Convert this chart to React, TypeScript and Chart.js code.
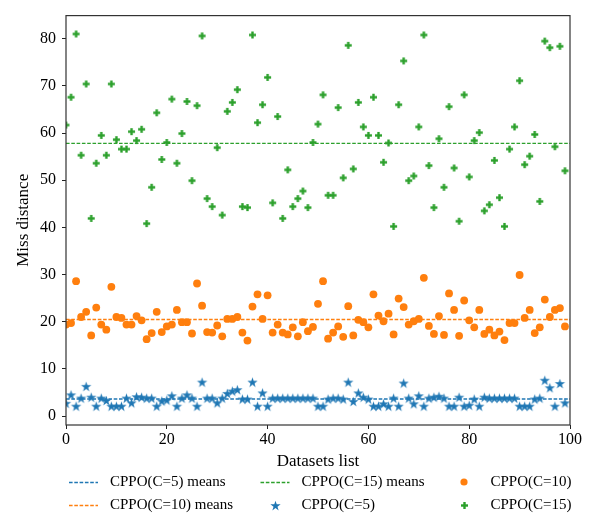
import React, { useEffect, useRef } from "react";
import { Chart, registerables } from "chart.js";

Chart.register(...registerables);

// Dataset indices on the x axis (one entry per evaluated dataset)
const datasetIndex: number[] = Array.from({ length: 100 }, (_, i) => i);

// Miss distance per dataset, CPPO with C = 5
const missC5: number[] = [
  2.7, 4.5, 2.1, 3.8, 6.3, 4.0, 2.1, 3.8, 3.3, 2.1,
  2.1, 2.1, 3.8, 2.8, 4.1, 4.0, 3.8, 3.8, 2.1, 3.2,
  3.4, 4.3, 2.1, 3.8, 4.5, 3.8, 2.1, 7.2, 3.8, 3.8,
  2.8, 3.8, 4.8, 5.3, 5.6, 3.6, 3.6, 7.2, 2.1, 4.9,
  2.1, 3.8, 3.8, 3.8, 3.8, 3.8, 3.8, 3.8, 3.8, 3.8,
  2.1, 2.1, 3.6, 3.8, 3.8, 3.6, 7.2, 3.1, 4.9, 4.0,
  3.6, 2.1, 2.1, 2.6, 2.1, 3.8, 2.1, 7.0, 3.8, 2.6,
  4.3, 2.1, 3.8, 4.0, 4.2, 3.8, 2.1, 2.1, 4.0, 2.1,
  2.3, 3.6, 2.1, 4.0, 3.8, 3.8, 3.8, 3.8, 3.8, 3.8,
  2.1, 2.1, 2.1, 3.6, 3.8, 7.6, 6.0, 2.1, 6.9, 2.8,
];

// Miss distance per dataset, CPPO with C = 10
const missC10: number[] = [
  19.4, 19.7, 28.6, 21.0, 22.1, 17.1, 23.0, 19.4, 18.3, 27.4,
  21.0, 20.8, 19.4, 19.4, 21.2, 20.3, 16.3, 17.6, 22.1, 17.8,
  19.0, 19.4, 22.5, 19.9, 19.9, 17.5, 28.1, 23.4, 17.8, 17.7,
  19.2, 16.9, 20.6, 20.6, 21.0, 17.7, 16.0, 23.2, 25.8, 20.6,
  25.6, 17.7, 19.4, 17.7, 17.3, 18.8, 16.9, 19.9, 18.0, 18.9,
  23.8, 28.6, 16.4, 17.7, 19.0, 16.8, 23.3, 17.1, 20.4, 19.9,
  18.8, 25.8, 21.3, 20.1, 21.7, 17.3, 24.9, 23.1, 19.4, 20.1,
  20.6, 29.3, 19.1, 17.4, 21.2, 17.2, 26.0, 22.5, 17.0, 24.5,
  20.3, 18.8, 22.5, 17.4, 18.3, 17.1, 17.9, 16.1, 19.7, 19.7,
  29.9, 20.8, 22.5, 17.6, 18.8, 24.7, 21.0, 22.5, 22.9, 19.0,
];

// Miss distance per dataset, CPPO with C = 15
const missC15: number[] = [
  61.7, 67.6, 81.0, 55.3, 70.4, 41.9, 53.6, 59.5, 55.3, 70.4,
  58.6, 56.6, 56.6, 60.3, 58.4, 60.8, 40.8, 48.5, 64.3, 54.4,
  58.0, 67.2, 53.6, 59.9, 66.7, 49.9, 65.8, 80.6, 46.1, 44.4,
  56.9, 42.6, 64.6, 66.5, 69.2, 44.4, 44.2, 80.8, 62.2, 66.0,
  71.8, 45.2, 63.5, 41.9, 52.2, 44.4, 46.1, 47.7, 44.2, 58.0,
  61.9, 68.1, 46.8, 46.8, 65.4, 50.5, 78.6, 52.4, 66.5, 61.3,
  59.5, 67.6, 59.5, 53.8, 57.9, 40.2, 66.0, 75.3, 49.9, 50.9,
  61.3, 80.8, 53.1, 44.2, 58.8, 48.5, 65.6, 52.6, 41.3, 68.1,
  50.7, 58.4, 60.1, 43.5, 44.8, 54.2, 46.3, 40.2, 56.6, 61.3,
  71.1, 53.3, 55.1, 59.7, 45.5, 79.5, 78.1, 57.1, 78.4, 52.0,
];

const xTickValues: number[] = [0, 20, 40, 60, 80, 100];
const yTickValues: number[] = [0, 10, 20, 30, 40, 50, 60, 70, 80];
const xRange: [number, number] = [0, 100];
const yRange: [number, number] = [-1.9, 84.9];

const BLUE = "#1f77b4";
const ORANGE = "#ff7f0e";
const GREEN = "#2ca02c";
const SERIF = "'Liberation Serif', 'Times New Roman', serif";
const MEAN_DASH = [3.6, 1.7];

const mean = (values: number[]) => values.reduce((s, v) => s + v, 0) / values.length;

// Filled five-pointed star marker
function makeStar(color: string, outer: number): HTMLCanvasElement {
  const size = Math.ceil(outer * 2) + 2;
  const c = document.createElement("canvas");
  c.width = size;
  c.height = size;
  const ctx = c.getContext("2d")!;
  const cx = size / 2;
  const cy = size / 2 + outer * 0.1;
  const inner = outer * 0.382;
  ctx.beginPath();
  for (let k = 0; k < 10; k++) {
    const r = k % 2 === 0 ? outer : inner;
    const a = -Math.PI / 2 + (k * Math.PI) / 5;
    const px = cx + r * Math.cos(a);
    const py = cy + r * Math.sin(a);
    if (k === 0) ctx.moveTo(px, py);
    else ctx.lineTo(px, py);
  }
  ctx.closePath();
  ctx.fillStyle = color;
  ctx.fill();
  return c;
}

// Filled plus marker
function makePlus(color: string, span: number, arm: number): HTMLCanvasElement {
  const size = Math.ceil(span) + 2;
  const c = document.createElement("canvas");
  c.width = size;
  c.height = size;
  const ctx = c.getContext("2d")!;
  const o = (size - span) / 2;
  const a = (size - arm) / 2;
  ctx.fillStyle = color;
  ctx.fillRect(o, a, span, arm);
  ctx.fillRect(a, o, arm, span);
  return c;
}

const toPoints = (values: number[]) => datasetIndex.map((x, i) => ({ x, y: values[i] }));
const meanLine = (values: number[]) => {
  const m = mean(values);
  return [
    { x: xRange[0], y: m },
    { x: xRange[1], y: m },
  ];
};

export default function App() {
  const canvasRef = useRef<HTMLCanvasElement | null>(null);

  useEffect(() => {
    const canvas = canvasRef.current;
    if (!canvas) return;

    const starImg = makeStar(BLUE, 5.4);
    const plusImg = makePlus(GREEN, 7, 2.4);

    // Full box around the plotting area
    const framePlugin = {
      id: "frame",
      afterDatasetsDraw(chart: any) {
        const { ctx, chartArea } = chart;
        ctx.save();
        ctx.strokeStyle = "#333";
        ctx.lineWidth = 1.2;
        ctx.strokeRect(
          chartArea.left,
          chartArea.top,
          chartArea.right - chartArea.left,
          chartArea.bottom - chartArea.top
        );
        ctx.restore();
      },
    };

    // Three-column legend laid out column by column under the axis title
    const legendEntries = [
      { col: 0, row: 0, kind: "line", color: BLUE, label: "CPPO(C=5) means" },
      { col: 0, row: 1, kind: "line", color: ORANGE, label: "CPPO(C=10) means" },
      { col: 1, row: 0, kind: "line", color: GREEN, label: "CPPO(C=15) means" },
      { col: 1, row: 1, kind: "star", color: BLUE, label: "CPPO(C=5)" },
      { col: 2, row: 0, kind: "circle", color: ORANGE, label: "CPPO(C=10)" },
      { col: 2, row: 1, kind: "plus", color: GREEN, label: "CPPO(C=15)" },
    ];
    const legendPlugin = {
      id: "columnLegend",
      afterDraw(chart: any) {
        const ctx = chart.ctx as CanvasRenderingContext2D;
        const colCenters = [83.5, 275, 464];
        const rowCenters = [482, 505];
        const handleHalf = 14.5;
        ctx.save();
        for (const e of legendEntries) {
          const cx = colCenters[e.col];
          const cy = rowCenters[e.row];
          if (e.kind === "line") {
            ctx.strokeStyle = e.color;
            ctx.lineWidth = 1.3;
            ctx.setLineDash(MEAN_DASH);
            ctx.beginPath();
            ctx.moveTo(cx - handleHalf, cy + 0.5);
            ctx.lineTo(cx + handleHalf, cy + 0.5);
            ctx.stroke();
            ctx.setLineDash([]);
          } else if (e.kind === "circle") {
            ctx.fillStyle = e.color;
            ctx.beginPath();
            ctx.arc(cx, cy, 3.6, 0, Math.PI * 2);
            ctx.fill();
          } else {
            const img = e.kind === "star" ? starImg : plusImg;
            ctx.drawImage(img, Math.round(cx - img.width / 2), Math.round(cy - img.height / 2));
          }
          ctx.fillStyle = "#000";
          ctx.font = `15px ${SERIF}`;
          ctx.textAlign = "left";
          ctx.textBaseline = "middle";
          ctx.fillText(e.label, cx + 26.5, cy);
        }
        ctx.restore();
      },
    };

    const tickFont = { family: SERIF, size: 16 };
    const titleFont = { family: SERIF, size: 17 };

    const meanDataset = (label: string, values: number[], color: string) => ({
      type: "line",
      label,
      data: meanLine(values),
      borderColor: color,
      backgroundColor: color,
      borderWidth: 1.3,
      borderDash: MEAN_DASH,
      pointRadius: 0,
      fill: false,
      tension: 0,
      order: 0,
    });

    const chart = new Chart(canvas, {
      type: "scatter",
      data: {
        datasets: [
          meanDataset("CPPO(C=5) means", missC5, BLUE),
          meanDataset("CPPO(C=10) means", missC10, ORANGE),
          meanDataset("CPPO(C=15) means", missC15, GREEN),
          {
            label: "CPPO(C=5)",
            data: toPoints(missC5),
            pointStyle: starImg,
            pointRadius: 5,
            order: 1,
            clip: 0,
          },
          {
            label: "CPPO(C=10)",
            data: toPoints(missC10),
            pointStyle: "circle",
            pointRadius: 3.9,
            backgroundColor: ORANGE,
            borderWidth: 0,
            order: 1,
            clip: 0,
          },
          {
            label: "CPPO(C=15)",
            data: toPoints(missC15),
            pointStyle: plusImg,
            pointRadius: 4,
            order: 1,
            clip: 0,
          },
        ] as any,
      },
      options: {
        responsive: false,
        animation: false,
        events: [],
        layout: { padding: { left: 0, right: 21, top: 7, bottom: 45 } },
        plugins: {
          legend: { display: false },
          tooltip: { enabled: false },
        },
        scales: {
          x: {
            type: "linear",
            min: xRange[0],
            max: xRange[1],
            afterBuildTicks: (s: any) => {
              s.ticks = xTickValues.map((v) => ({ value: v }));
            },
            afterFit: (s: any) => {
              s.height = 47;
            },
            ticks: { font: tickFont, color: "#000", padding: 1, maxRotation: 0, autoSkip: false },
            grid: { drawOnChartArea: false, drawTicks: true, tickLength: 4, color: "#222" },
            border: { display: false },
            title: {
              display: true,
              text: "Datasets list",
              font: titleFont,
              color: "#000",
              padding: { top: 0, bottom: 0 },
            },
          },
          y: {
            type: "linear",
            min: yRange[0],
            max: yRange[1],
            afterBuildTicks: (s: any) => {
              s.ticks = yTickValues.map((v) => ({ value: v }));
            },
            afterFit: (s: any) => {
              s.width = 66;
            },
            ticks: { font: tickFont, color: "#000", padding: 6, autoSkip: false },
            grid: { drawOnChartArea: false, drawTicks: true, tickLength: 4, color: "#222" },
            border: { display: false },
            title: {
              display: true,
              text: "Miss distance",
              font: titleFont,
              color: "#000",
              padding: { top: 13, bottom: 0 },
            },
          },
        },
      } as any,
      plugins: [framePlugin, legendPlugin],
    });

    return () => chart.destroy();
  }, []);

  return (
    <div style={{ position: "absolute", left: 0, top: 0, width: 591, height: 517, background: "#fff" }}>
      <canvas ref={canvasRef} width={591} height={517} style={{ display: "block" }} />
    </div>
  );
}
